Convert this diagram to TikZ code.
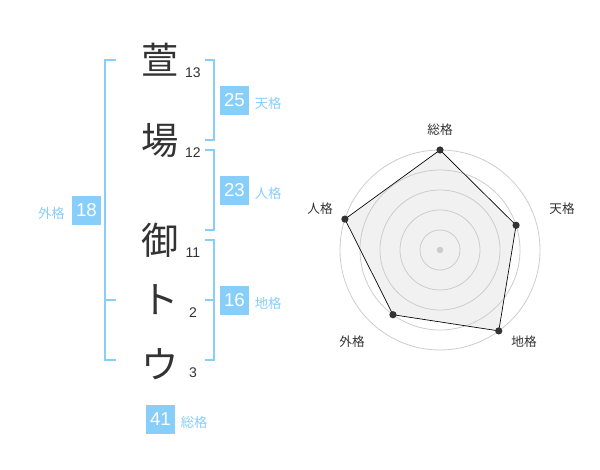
\documentclass[tikz,border=0pt]{standalone}
\usepackage{fontspec}
\setmainfont{Liberation Sans}
\newfontfamily\jpfont{Noto Sans CJK JP}
\usepackage{xcolor}
\usetikzlibrary{positioning}

\definecolor{kakublue}{HTML}{87CEFA}
\definecolor{kakuink}{HTML}{333333}
\definecolor{ringgray}{HTML}{CCCCCC}
\definecolor{polyfill}{HTML}{EEEEEE}

\tikzset{
  kanji/.style={font=\jpfont\fontsize{28}{28}\selectfont, text=kakuink, inner sep=0pt},
  strokes/.style={font=\fontsize{10.5}{10.5}\selectfont, text=kakuink, inner sep=0pt},
  kakubox/.style={fill=kakublue, text=white, minimum size=21.75pt, inner sep=0pt, font=\fontsize{14}{14}\selectfont},
  kakuname/.style={text=kakublue, font=\jpfont\fontsize{10}{10}\selectfont, inner sep=0pt},
  bracket/.style={draw=kakublue, line width=1.5pt},
  axislabel/.style={text=kakuink, font=\jpfont\fontsize{9.5}{9.5}\selectfont, inner sep=0pt},
}

\begin{document}
\begin{tikzpicture}[x=0.75pt, y=-0.75pt]
  \useasboundingbox (0,0) rectangle (600,470);

  % Name characters and stroke counts
  \foreach \name/\c/\y/\n/\ny in {k1/萱/60/13/73, k2/場/140.5/12/152.7, k3/御/240/11/252.7, k4/ト/300/2/313, k5/ウ/364/3/373}
  {
      \node[kanji] (\name) at (160,\y) {\c};
      \node[strokes] (n\name) at (193,\ny) {\n};
  }

  % Brackets
  \draw[bracket] (116,60) -- (105,60) -- (105,360) -- (116,360);
  \draw[bracket] (105,300) -- (116,300);
  \draw[bracket] (205,60) -- (214,60) -- (214,140) -- (205,140);
  \draw[bracket] (205,150) -- (214,150) -- (214,230) -- (205,230);
  \draw[bracket] (205,240) -- (214,240) -- (214,360) -- (205,360);
  \draw[bracket] (205,300) -- (214,300);

  % Boxes
  \node[kakubox] (ten) at (234.5,100.5) {25};
  \node[kakubox] (jin) at (234.5,190.5) {23};
  \node[kakubox] (chi) at (234.5,300.5) {16};
  \node[kakubox] (gai) at (86.5,210.5) {18};
  \node[kakubox] (sou) at (160.5,419.5) {41};
  \node[kakuname, right=4pt of ten, yshift=-2pt] (tenname) {天格};
  \node[kakuname, right=4pt of jin, yshift=-2pt] (jinname) {人格};
  \node[kakuname, right=4pt of chi, yshift=-2pt] (chiname) {地格};
  \node[kakuname, left=5pt of gai, yshift=-2pt] (gainame) {外格};
  \node[kakuname, right=4pt of sou, yshift=-2pt] (souname) {総格};

  % Radar chart
  \coordinate (center) at (440,250);
  \foreach \name/\a/\r in {psou/90/100, pten/18/80, pchi/-54/100, pgai/-126/80, pjin/162/100}
  {
      \coordinate (\name) at ({440+\r*cos(\a)},{250-\r*sin(\a)});
  }
  \fill[polyfill, opacity=0.8] (psou) -- (pten) -- (pchi) -- (pgai) -- (pjin) -- cycle;
  \foreach \r in {20,40,...,100}
  {
      \draw[ringgray, line width=0.6pt] (center) circle (\r);
  }
  \draw[black, line width=0.5pt] (psou) -- (pten) -- (pchi) -- (pgai) -- (pjin) -- cycle;
  \foreach \name in {psou,pten,pchi,pgai,pjin}
  {
      \fill[kakuink] (\name) circle (3.6);
  }
  \fill[ringgray] (center) circle (3.3);

  \node[axislabel] (lsou) at (440,130) {総格};
  \node[axislabel] (lten) at (562,209) {天格};
  \node[axislabel] (lchi) at (524,342) {地格};
  \node[axislabel] (lgai) at (352,342) {外格};
  \node[axislabel] (ljin) at (320,209) {人格};
\end{tikzpicture}
\end{document}
